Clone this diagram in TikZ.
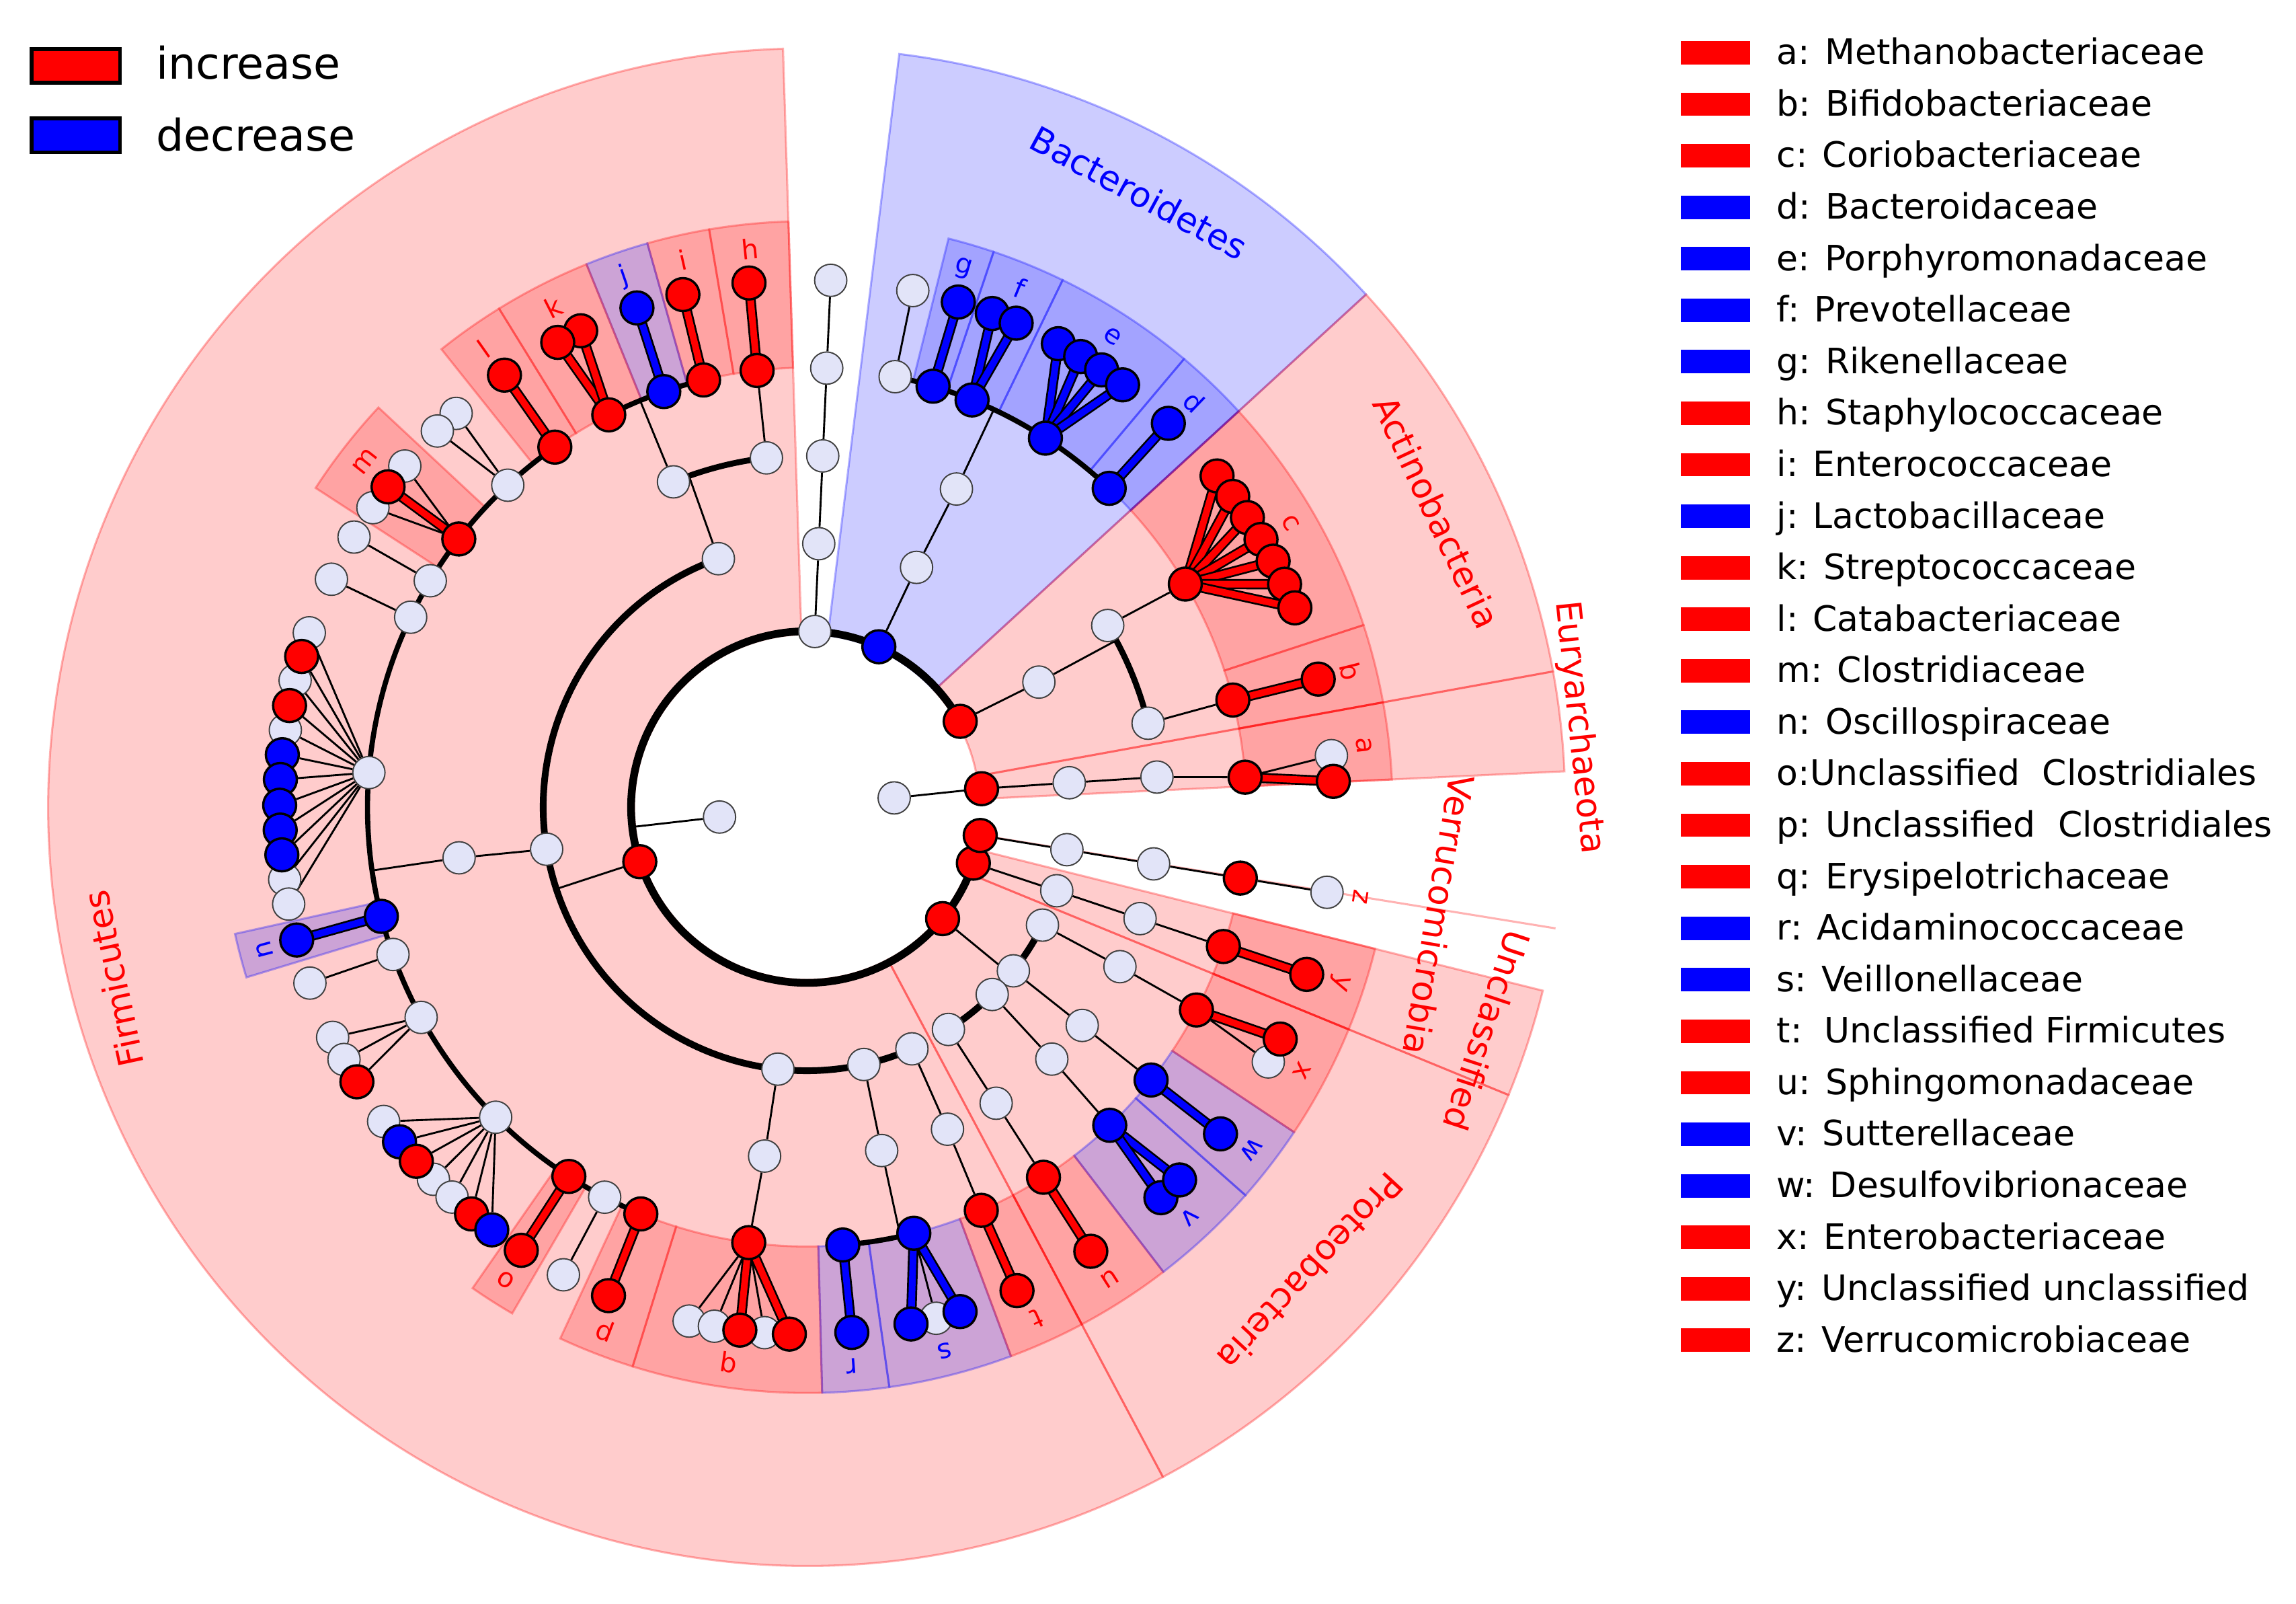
\documentclass[tikz,border=0pt]{standalone}
\usepackage{fontspec}
\setmainfont{DejaVu Sans}
\definecolor{nodewhite}{RGB}{226,228,248}
\pgfdeclarelayer{wedges}
\pgfdeclarelayer{links}
\pgfsetlayers{wedges,links,main}
\newcommand\sector[5]{\path[#1] (#2:#4) arc[start angle=#2, end angle=#3, radius=#4*0.2mm] -- (#3:#5) arc[start angle=#3, end angle=#2, radius=#5*0.2mm] -- cycle;}
\newcommand\carc[4]{\draw[#1] (#2:#4) arc[start angle=#2, end angle=#3, radius=#4*0.2mm];}
\tikzset{
  wn/.style={circle, draw=black!75, line width=0.5pt, fill=nodewhite, minimum size=4.4mm, inner sep=0pt},
  rn/.style={circle, draw=black, line width=0.9pt, fill=red, minimum size=4.5mm, inner sep=0pt},
  bn/.style={circle, draw=black, line width=0.9pt, fill=blue, minimum size=4.5mm, inner sep=0pt},
  lnk/.style={line width=0.75pt, draw=black},
  barR/.style={line width=0.7pt, draw=black, double=red, double distance=2.6pt},
  barB/.style={line width=0.7pt, draw=black, double=blue, double distance=2.6pt},
  arcK/.style={line width=3pt},
  arcC/.style={line width=2.6pt},
  arcO/.style={line width=2.3pt},
  arcF/.style={line width=2pt},
  wR/.style={fill=red, fill opacity=0.2, draw=red, draw opacity=0.3, line width=0.8pt},
  wB/.style={fill=blue, fill opacity=0.2, draw=blue, draw opacity=0.3, line width=0.8pt},
  lab/.style={font=\fontsize{10.5}{12}\selectfont, inner sep=0pt},
  plab/.style={font=\fontsize{13.5}{16}\selectfont, inner sep=0pt, text=red},
  lbox/.style={rectangle, minimum width=9.4mm, minimum height=3.2mm, inner sep=0pt},
  ltext/.style={font=\fontsize{13.6}{16}\selectfont, inner sep=0pt, anchor=base west},
  kbox/.style={rectangle, draw=black, line width=1.5pt, minimum width=12.1mm, minimum height=4.6mm, inner sep=0pt},
  ktext/.style={font=\fontsize{17}{20}\selectfont, inner sep=0pt, anchor=base west},
}
\begin{document}
\begin{tikzpicture}[x=0.2mm,y=0.2mm]
\useasboundingbox (-551,-544) rectangle (1017,551);

% ---------------- nodes ----------------
\node[wn] (kB) at (186.5:60) {};
\node[wn] (kA) at (6:60) {};
\node[wn] (pTop) at (87.4:120) {};
\node[bn] (pBac) at (65.8:120) {};
\node[rn] (pAct) at (29.2:120) {};
\node[rn] (pEur) at (6:120) {};
\node[rn] (pUnc) at (-18.6:120) {};
\node[rn] (pVer) at (-9.3:120) {};
\node[rn] (pPro) at (-39.4:120) {};
\node[rn] (pFir) at (198.1:120) {};
% top chain
\node[wn] (cTop) at (87.4:180) {};
\node[wn] (oTop) at (87.4:240) {};
\node[wn] (fTop) at (87.4:300) {};
\node[wn] (gTop) at (87.4:360) {};
% Bacteroidetes
\node[wn] (cBac) at (65.4:180) {};
\node[wn] (oBac) at (64.8:240) {};
\node[wn] (fBw) at (78.4:300) {};
\node[bn] (fg) at (73.3:300) {};
\node[bn] (ff) at (67.9:300) {};
\node[bn] (fe) at (57.1:300) {};
\node[bn] (fd) at (46.5:300) {};
\node[wn] (gBw) at (78.4:360) {};
\node[bn] (gg) at (73.3:360) {};
\node[bn] (gf1) at (69.4:360) {};
\node[bn] (gf2) at (66.6:360) {};
\foreach \a [count=\i] in {61.5,58.7,56.0,53.2} \node[bn] (ge\i) at (\a:360) {};
\node[bn] (gd) at (46.7:360) {};
% Actinobacteria
\node[wn] (cAct) at (28.3:180) {};
\node[wn] (oAct1) at (31.1:240) {};
\node[wn] (oAct2) at (13.8:240) {};
\node[rn] (fc) at (30.5:300) {};
\foreach \a [count=\i] in {38.9,36.1,33.3,30.5,27.8,25.0,22.2} \node[rn] (gc\i) at (\a:360) {};
\node[rn] (fb) at (14.1:300) {};
\node[rn] (gb) at (14.05:360) {};
% Euryarchaeota
\node[wn] (cEur) at (5.3:180) {};
\node[wn] (oEur) at (4.9:240) {};
\node[rn] (fa) at (3.9:300) {};
\node[wn] (ga1) at (5.6:360) {};
\node[rn] (ga2) at (2.8:360) {};
% Verrucomicrobia
\node[wn] (cVer) at (-9.3:180) {};
\node[wn] (oVer) at (-9.3:240) {};
\node[rn] (fz) at (-9.3:300) {};
\node[wn] (gz) at (-9.3:360) {};
% Unclassified
\node[wn] (cUnc) at (-18.5:180) {};
\node[wn] (oUnc) at (-18.5:240) {};
\node[rn] (fy) at (-18.5:300) {};
\node[rn] (gy) at (-18.5:360) {};
% Proteobacteria
\node[wn] (cP1) at (-26.6:180) {};
\node[wn] (oP1) at (-27:240) {};
\node[rn] (fx) at (-27.5:300) {};
\node[wn] (gx2) at (-28.9:360) {};
\node[rn] (gx1) at (-26.1:360) {};
\node[wn] (cP2) at (-38.4:180) {};
\node[wn] (oP2) at (-38.4:240) {};
\node[bn] (fw) at (-38.4:300) {};
\node[bn] (gw) at (-38.3:360) {};
\node[wn] (cP3) at (-45.3:180) {};
\node[wn] (oP3) at (-45.8:240) {};
\node[bn] (fv) at (-46.4:300) {};
\node[bn] (gv2) at (-47.8:360) {};
\node[bn] (gv1) at (-45:360) {};
\node[wn] (cP4) at (-57.5:180) {};
\node[wn] (oP4) at (-57.4:240) {};
\node[rn] (fu) at (-57.4:300) {};
\node[rn] (gu) at (-57.4:360) {};
% Firmicutes - Bacilli
\node[wn] (cF1) at (109.6:180) {};
\node[wn] (oF1a) at (112.3:240) {};
\node[wn] (oF1b) at (96.6:240) {};
\node[rn] (fh) at (96.5:300) {};
\node[rn] (gh) at (96.3:360) {};
\node[rn] (fi) at (103.6:300) {};
\node[rn] (gi) at (103.6:360) {};
\node[bn] (fj) at (109:300) {};
\node[bn] (gj) at (108.8:360) {};
\node[rn] (fk) at (116.8:300) {};
\node[rn] (gk2) at (115.4:360) {};
\node[rn] (gk1) at (118.2:360) {};
% Clostridia
\node[wn] (cF2) at (189.2:180) {};
\node[wn] (oF2) at (188.3:240) {};
\node[rn] (fl) at (125:300) {};
\node[wn] (fC1) at (132.9:300) {};
\node[rn] (fm) at (142.4:300) {};
\node[wn] (fC2) at (149:300) {};
\node[wn] (fC3) at (154.4:300) {};
\node[wn] (fC4) at (175.5:300) {};
\node[bn] (fn) at (194.4:300) {};
\node[wn] (fC5) at (199.6:300) {};
\node[wn] (fC6) at (208.6:300) {};
\node[wn] (fC7) at (224.9:300) {};
\node[rn] (fo) at (237.2:300) {};
\node[wn] (fC8) at (242.6:300) {};
\node[rn] (fp) at (247.8:300) {};
\node[rn] (gl) at (125:360) {};
\node[wn] (gC1a) at (131.7:360) {};
\node[wn] (gC1b) at (134.5:360) {};
\node[wn] (gm1) at (139.7:360) {};
\node[wn] (gm3) at (145.4:360) {};
\node[rn] (gm2) at (142.6:360) {};
\node[wn] (gC2) at (149.2:360) {};
\node[wn] (gC3) at (154.4:360) {};
\foreach \a/\n in {160.7/1,166.1/3,171.6/5,187.9/11,190.6/12} \node[wn] (gC4-\n) at (\a:360) {};
\foreach \a/\n/\s in {163.4/2/rn,168.9/4/rn,174.3/6/bn,177/7/bn,179.8/8/bn,182.5/9/bn,185.2/10/bn} \node[\s] (gC4-\n) at (\a:360) {};
\node[bn] (gn) at (194.6:360) {};
\node[wn] (gC5) at (199.5:360) {};
\node[wn] (gC6-1) at (205.9:360) {};
\node[wn] (gC6-2) at (208.6:360) {};
\node[rn] (gC6-3) at (211.4:360) {};
\foreach \a/\n in {216.6/1,224.9/4,227.7/5} \node[wn] (gC7-\n) at (\a:360) {};
\foreach \a/\n/\s in {219.4/2/bn,222.2/3/rn,230.5/6/rn,233.3/7/bn} \node[\s] (gC7-\n) at (\a:360) {};
\node[rn] (go) at (237.2:360) {};
\node[wn] (gC8) at (242.5:360) {};
\node[rn] (gp) at (247.9:360) {};
% Erysipelotrichia
\node[wn] (cF3) at (263.7:180) {};
\node[wn] (oF3) at (263.1:240) {};
\node[rn] (fq) at (262.4:300) {};
\foreach \a/\n in {257.1/1,259.9/2,265.4/4} \node[wn] (gq-\n) at (\a:360) {};
\foreach \a/\n in {262.7/3,268.1/5} \node[rn] (gq-\n) at (\a:360) {};
% Negativicutes
\node[wn] (cF4) at (282.5:180) {};
\node[wn] (oF4) at (282.3:240) {};
\node[bn] (fr) at (274.7:300) {};
\node[bn] (fs) at (284.1:300) {};
\node[bn] (gr) at (274.9:360) {};
\node[wn] (gs2) at (284.2:360) {};
\node[bn] (gs1) at (281.4:360) {};
\node[bn] (gs3) at (286.9:360) {};
% unclassified Firmicutes
\node[wn] (cF5) at (293.5:180) {};
\node[wn] (oF5) at (293.6:240) {};
\node[rn] (ft) at (293.4:300) {};
\node[rn] (gt) at (293.5:360) {};

% ---------------- wedges ----------------
\begin{pgfonlayer}{wedges}
\sector{wR}{91.8}{298}{118}{518}
\sector{wB}{42.5}{83}{118}{518}
\sector{wR}{10.3}{42.5}{118}{518}
\sector{wR}{2.7}{10.3}{118}{518}
\sector{wR}{-22.3}{-14}{118}{518}
\sector{wR}{-62}{-22.3}{118}{518}
\draw[red, draw opacity=0.3, line width=0.8pt] (-9.2:118) -- (-9.2:518);
\foreach \a/\b/\s in {2.7/10.3/wR,10.3/18.1/wR,18.1/42.5/wR,42.5/49.9/wB,49.9/64.1/wB,64.1/71.4/wB,71.4/76/wB,91.8/99.6/wR,99.6/105.8/wR,105.8/112.1/wB,112.1/121.7/wR,121.7/128.6/wR,137/147/wR,192.5/196.9/wB,235.2/239.8/wR,245.1/252.7/wR,252.7/271.5/wR,271.5/278.1/wB,278.1/290.4/wB,290.4/298/wR,298/307.5/wR,307.5/318.5/wB,318.5/326.3/wB,326.3/337.7/wR,337.7/346/wR}
  {\sector{\s}{\a}{\b}{300}{400}}
\end{pgfonlayer}

% ---------------- links ----------------
\begin{pgfonlayer}{links}
\carc{arcK}{29.2}{350.6}{120}
\coordinate (xB) at (186.5:120);
\draw[lnk] (kB) -- (xB);
\draw[lnk] (kA) -- (pEur);
\draw[lnk] (pTop) -- (cTop) -- (oTop) -- (fTop) -- (gTop);
% Bacteroidetes
\coordinate (xBac) at (64.8:300);
\draw[lnk] (pBac) -- (cBac) -- (oBac) -- (xBac);
\carc{arcF}{46.5}{78.4}{300}
\draw[lnk] (fBw) -- (gBw);
\draw[barB] (fg.center) -- (gg.center);
\draw[barB] (ff.center) -- (gf1.center);
\draw[barB] (ff.center) -- (gf2.center);
\foreach \i in {1,...,4} \draw[barB] (fe.center) -- (ge\i.center);
\draw[barB] (fd.center) -- (gd.center);
% Actinobacteria
\coordinate (xAct) at (28.3:240);
\draw[lnk] (pAct) -- (cAct) -- (xAct);
\carc{arcO}{13.8}{31.1}{240}
\draw[lnk] (oAct1) -- (fc);
\foreach \i in {1,...,7} \draw[barR] (fc.center) -- (gc\i.center);
\draw[lnk] (oAct2) -- (fb);
\draw[barR] (fb.center) -- (gb.center);
% Euryarchaeota
\draw[lnk] (pEur) -- (cEur) -- (oEur) -- (fa) -- (ga1);
\draw[barR] (fa.center) -- (ga2.center);
% Verrucomicrobia
\draw[lnk] (pVer) -- (cVer) -- (oVer) -- (fz) -- (gz);
% Unclassified
\draw[lnk] (pUnc) -- (cUnc) -- (oUnc) -- (fy);
\draw[barR] (fy.center) -- (gy.center);
% Proteobacteria
\coordinate (xPro) at (-39.4:180);
\draw[lnk] (pPro) -- (xPro);
\carc{arcC}{-57.5}{-26.6}{180}
\draw[lnk] (cP1) -- (oP1) -- (fx) -- (gx2);
\draw[barR] (fx.center) -- (gx1.center);
\draw[lnk] (cP2) -- (oP2) -- (fw);
\draw[barB] (fw.center) -- (gw.center);
\draw[lnk] (cP3) -- (oP3) -- (fv);
\draw[barB] (fv.center) -- (gv1.center);
\draw[barB] (fv.center) -- (gv2.center);
\draw[lnk] (cP4) -- (oP4) -- (fu);
\draw[barR] (fu.center) -- (gu.center);
% Firmicutes
\coordinate (xFir) at (198.1:180);
\draw[lnk] (pFir) -- (xFir);
\carc{arcC}{109.6}{293.5}{180}
\coordinate (xF1) at (109.6:240);
\draw[lnk] (cF1) -- (xF1);
\carc{arcO}{96.6}{112.3}{240}
\draw[lnk] (oF1b) -- (fh);
\draw[barR] (fh.center) -- (gh.center);
\coordinate (xF1a) at (112.3:300);
\draw[lnk] (oF1a) -- (xF1a);
\carc{arcF}{103.6}{116.8}{300}
\draw[barR] (fi.center) -- (gi.center);
\draw[barB] (fj.center) -- (gj.center);
\draw[barR] (fk.center) -- (gk1.center);
\draw[barR] (fk.center) -- (gk2.center);
\coordinate (xF2) at (188.3:300);
\draw[lnk] (cF2) -- (oF2) -- (xF2);
\carc{arcF}{125}{247.8}{300}
\draw[barR] (fl.center) -- (gl.center);
\draw[lnk] (fC1) -- (gC1a);
\draw[lnk] (fC1) -- (gC1b);
\draw[lnk] (fm) -- (gm1);
\draw[lnk] (fm) -- (gm3);
\draw[barR] (fm.center) -- (gm2.center);
\draw[lnk] (fC2) -- (gC2);
\draw[lnk] (fC3) -- (gC3);
\foreach \n in {1,...,12} \draw[lnk] (fC4) -- (gC4-\n);
\draw[barB] (fn.center) -- (gn.center);
\draw[lnk] (fC5) -- (gC5);
\foreach \n in {1,2,3} \draw[lnk] (fC6) -- (gC6-\n);
\foreach \n in {1,...,7} \draw[lnk] (fC7) -- (gC7-\n);
\draw[barR] (fo.center) -- (go.center);
\draw[lnk] (fC8) -- (gC8);
\draw[barR] (fp.center) -- (gp.center);
\draw[lnk] (cF3) -- (oF3) -- (fq);
\foreach \n in {1,2,4} \draw[lnk] (fq) -- (gq-\n);
\foreach \n in {3,5} \draw[barR] (fq.center) -- (gq-\n.center);
\coordinate (xF4) at (282.3:300);
\draw[lnk] (cF4) -- (oF4) -- (xF4);
\carc{arcF}{274.7}{284.1}{300}
\draw[barB] (fr.center) -- (gr.center);
\draw[barB] (fs.center) -- (gs1.center);
\draw[barB] (fs.center) -- (gs3.center);
\draw[lnk] (fs) -- (gs2);
\draw[lnk] (cF5) -- (oF5) -- (ft);
\draw[barR] (ft.center) -- (gt.center);
\end{pgfonlayer}

% ---------------- labels ----------------
\foreach \t/\a/\c in {a/6.3/red,b/14/red,c/30.4/red,d/46.3/blue,e/57/blue,f/67.7/blue,g/73.8/blue,h/95.8/red,i/102.8/red,j/109/blue,k/116.9/red,l/125.2/red,m/142/red,n/194.7/blue,o/237.5/red,p/248.9/red,q/262/red,r/274.6/blue,s/284.2/blue,t/294.2/red,u/302.7/red,v/313/blue,w/322.4/blue,x/332/red,y/341.8/red,z/350.8/red}
  \node[lab, text=\c, rotate=\a-90] (lab-\t) at (\a:383) {\t};

\node[plab, text=blue, rotate=-28.4] (tBac) at (61.6:477) {Bacteroidetes};
\node[plab, rotate=-64.9] (tAct) at (25.1:475) {Actinobacteria};
\node[plab, rotate=-84.1] (tEur) at (5.9:530) {Euryarchaeota};
\node[plab, rotate=-99.7] (tVer) at (-9.7:438) {Verrucomicrobia};
\node[plab, rotate=-108.2] (tUnc) at (-18.2:489) {Unclassified};
\node[plab, rotate=-132.7] (tPro) at (-42.7:468) {Proteobacteria};
\node[plab, rotate=102] (tFir) at (193.9:488) {Firmicutes};

% ---------------- legends ----------------
\node[kbox, fill=red] (kinc) at (-499.25,506) {};
\node[kbox, fill=blue] (kdec) at (-499.25,458.55) {};
\node[ktext] (tinc) at (-444.7,497.2) {increase};
\node[ktext] (tdec) at (-444.7,447.7) {decrease};

\foreach \t/\c [count=\i from 0] in {a: Methanobacteriaceae/red,b: Bifidobacteriaceae/red,c: Coriobacteriaceae/red,d: Bacteroidaceae/blue,e: Porphyromonadaceae/blue,f: Prevotellaceae/blue,g: Rikenellaceae/blue,h: Staphylococcaceae/red,i: Enterococcaceae/red,j: Lactobacillaceae/blue,k: Streptococcaceae/red,l: Catabacteriaceae/red,m: Clostridiaceae/red,n: Oscillospiraceae/blue,o:Unclassified\ \ Clostridiales/red,p: Unclassified\ \ Clostridiales/red,q: Erysipelotrichaceae/red,r: Acidaminococcaceae/blue,s: Veillonellaceae/blue,t:\ \ Unclassified Firmicutes/red,u: Sphingomonadaceae/red,v: Sutterellaceae/blue,w: Desulfovibrionaceae/blue,x: Enterobacteriaceae/red,y: Unclassified unclassified/red,z: Verrucomicrobiaceae/red}
{
  \node[lbox, fill=\c] (lb\i) at (620.5,{515-35.16*\i}) {};
  \node[ltext] (lt\i) at (662,{507-35.16*\i}) {\t};
}
\end{tikzpicture}
\end{document}
